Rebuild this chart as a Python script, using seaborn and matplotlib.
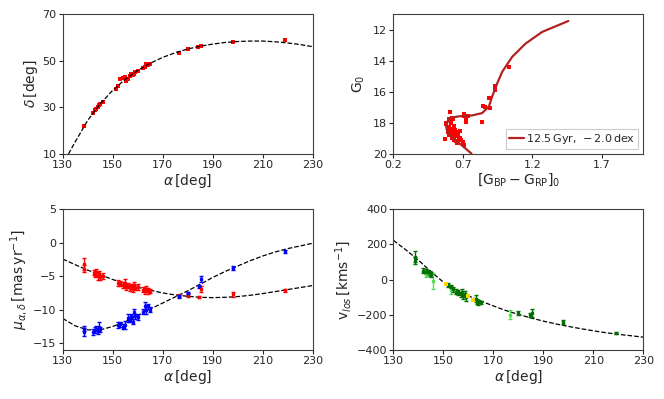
import numpy as np
import pandas as pd
import matplotlib
matplotlib.use("Agg")
import matplotlib.pyplot as plt
import seaborn as sns

sns.set_style("ticks")
plt.rcParams['font.family'] = ['DejaVu Sans']
plt.rcParams['mathtext.fontset'] = 'dejavusans'

# ---------------- data ----------------
# top-left: delta vs alpha
ra_pts = [138.5, 142, 143, 143.5, 144, 144.5, 145, 146, 151.5, 152, 153, 154, 155, 155.5, 156,
          157, 157.5, 158, 158.5, 159, 160, 162, 163, 163.5, 164, 165, 176.5, 180, 184, 185.5, 198, 219]
dec_pts = [22.2, 27.5, 29, 29.5, 30, 31, 31.5, 32.5, 38, 39, 42, 42.5, 43, 41.5, 42,
           43.5, 44.5, 44, 44.5, 45, 45.5, 47, 47.5, 48.5, 48, 48.5, 53.5, 55, 56, 56.3, 58, 58.7]
track_ra = [132.3, 135, 140, 145, 150, 155, 160, 165, 170, 175, 180, 185, 190, 195, 200, 205, 210,
            215, 220, 225, 230]
track_dec = [10, 15.2, 24.4, 31.5, 37.3, 42.0, 45.8, 48.9, 51.4, 53.4, 55.0, 56.2, 57.1, 57.8,
             58.2, 58.4, 58.4, 58.1, 57.6, 56.9, 56.0]

# top-right: CMD
iso_col = [0.762, 0.70, 0.62, 0.587, 0.58, 0.60, 0.671, 0.767, 0.839, 0.888, 0.911, 0.948,
           0.984, 1.056, 1.152, 1.272, 1.46]
iso_mag = [19.97, 19.5, 18.9, 18.54, 18.22, 17.69, 17.58, 17.52, 17.37, 16.95, 16.31, 15.45,
           14.71, 13.75, 12.9, 12.15, 11.45]
cmd_col = [0.61, 0.709, 0.712, 0.736, 0.724, 0.724, 0.58, 0.60, 0.62, 0.63, 0.578, 0.602, 0.616,
           0.626, 0.638, 0.60, 0.61, 0.62, 0.645, 0.657, 0.633, 0.60, 0.618, 0.657, 0.62, 0.638,
           0.573, 0.65, 0.67, 0.68, 0.69, 0.70, 0.71, 0.657, 0.839, 0.862, 0.845, 0.895, 0.888,
           0.93, 0.93, 1.03, 0.59, 0.64, 0.665, 0.68]
cmd_mag = [17.33, 17.43, 17.58, 17.55, 17.8, 17.92, 18.0, 17.76, 17.7, 17.76, 18.06, 18.27, 18.0,
           18.37, 18.2, 18.48, 18.48, 18.58, 18.48, 18.58, 18.69, 18.8, 18.8, 18.84, 19.0, 19.1,
           19.05, 19.16, 19.1, 19.0, 19.1, 19.2, 19.4, 19.3, 17.92, 16.99, 16.92, 17.05, 16.4,
           15.9, 15.6, 14.4, 18.6, 18.9, 18.7, 18.55]

# bottom-left: proper motions
pm_ra = [138.5, 138.5, 142.5, 143, 143.5, 144, 144.5, 145, 146, 152, 153, 154, 155, 155.5, 156,
         157, 157.5, 158, 158.5, 159, 160, 162, 163, 163.5, 164, 165, 176.5, 180, 184.5, 185.5,
         198, 219]
pmra = [-3.2, -3.9, -4.5, -4.8, -4.4, -5.0, -4.7, -5.2, -5.0, -6.0, -6.1, -6.3, -6.0, -6.6, -6.4,
        -6.8, -6.5, -6.9, -6.3, -6.7, -6.6, -7.0, -7.2, -6.9, -7.2, -7.2, -7.9, -7.8, -8.1, -6.9,
        -7.7, -7.1]
pmra_err = [0.9, 0.5, 0.4, 0.4, 0.4, 0.6, 0.4, 0.4, 0.4, 0.4, 0.4, 0.4, 0.6, 0.4, 0.4, 0.4, 0.4,
            0.4, 0.4, 0.4, 0.4, 0.4, 0.4, 0.4, 0.4, 0.3, 0.2, 0.3, 0.15, 0.4, 0.4, 0.2]
pm_dec_ra = [138.5, 138.5, 142, 143, 143.5, 144, 144.5, 145, 152, 153, 154, 155, 156, 157, 157.5,
             158, 158.5, 159, 160, 162, 163, 163.5, 164, 165, 176.5, 180, 184.5, 185.5, 198, 219]
pmdec = [-13.3, -12.8, -13.3, -13.0, -12.8, -13.2, -12.5, -12.9, -12.3, -12.2, -12.5, -12.3,
         -11.2, -11.5, -11.0, -11.8, -10.4, -11.0, -11.1, -10.3, -9.4, -10.0, -9.5, -10.0, -8.0,
         -7.5, -6.5, -5.4, -3.8, -1.3]
pmdec_err = [0.6, 0.4, 0.4, 0.5, 0.4, 0.4, 0.7, 0.4, 0.4, 0.4, 0.4, 0.6, 0.6, 0.4, 0.4, 0.4, 0.5,
             0.4, 0.4, 0.4, 0.6, 0.7, 0.4, 0.4, 0.2, 0.2, 0.2, 0.4, 0.3, 0.2]
pm_track_ra = [130, 135, 140, 145, 150, 155, 160, 165, 170, 175, 180, 185, 190, 195, 200, 205,
               210, 215, 220, 225, 230]
pmra_track = [-2.45, -3.3, -4.1, -4.8, -5.5, -6.1, -6.65, -7.1, -7.5, -7.8, -8.0, -8.15, -8.2,
              -8.15, -8.05, -7.85, -7.6, -7.3, -7.0, -6.7, -6.4]
pmdec_track = [-11.3, -12.4, -13.0, -13.0, -12.5, -11.8, -10.9, -9.9, -9.0, -8.1, -7.2, -6.2,
               -5.2, -4.3, -3.5, -2.7, -2.0, -1.4, -0.9, -0.5, -0.1]

# bottom-right: line-of-sight velocities
v_ra_dark = [138.5, 138.7, 142, 143, 143.5, 144.5, 145, 152, 153, 154, 155, 156, 157, 157.5, 158,
             158.5, 159, 163, 163.5, 164, 165, 180, 184.5, 185.5, 198, 219]
v_dark = [130, 110, 50, 45, 40, 35, 30, -30, -40, -55, -70, -75, -85, -70, -95, -80, -100, -110,
          -125, -130, -130, -190, -200, -190, -240, -305]
v_dark_err = [30, 20, 15, 15, 15, 15, 15, 10, 10, 15, 15, 15, 15, 15, 15, 15, 20, 20, 15, 15, 10,
              10, 12, 22, 12, 5]
v_ra_light = [143, 146, 153, 176.5]
v_light = [30, -10, -60, -200]
v_light_err = [18, 45, 25, 25]
v_ra_yellow = [151, 160, 162]
v_yellow = [-28, -94, -117]
v_track_ra = [130, 135, 140, 145, 150, 155, 160, 165, 170, 175, 180, 185, 190, 195, 200, 205,
              210, 215, 220, 225, 230]
v_track = [222, 168, 110, 45, -15, -57, -93, -122, -150, -176, -198, -218, -236, -252, -266, -279,
           -291, -302, -311, -319, -327]

# ---------------- figure ----------------
fig = plt.figure(figsize=(6.64, 3.99), dpi=100)
W, H = 664, 399
def add_ax(x0, y0, x1, y1):
    return fig.add_axes([x0 / W, 1 - y1 / H, (x1 - x0) / W, (y1 - y0) / H])

ax1 = add_ax(62.7, 14, 312.7, 154)
ax2 = add_ax(393.4, 14, 643.3, 154)
ax3 = add_ax(62.7, 209, 312.7, 350)
ax4 = add_ax(393.4, 209, 643.3, 350)

dash = dict(color='k', linestyle='--', linewidth=0.9, dashes=(3.5, 2))
tick_fs = 8
lab_fs = 10

# top-left
sns.lineplot(x=track_ra, y=track_dec, ax=ax1, sort=False, estimator=None, **dash)
sns.scatterplot(x=ra_pts, y=dec_pts, ax=ax1, color='red', s=9, linewidth=0, marker='s')
ax1.set_xlim(130, 230)
ax1.set_ylim(10, 70)
ax1.set_xticks([130, 150, 170, 190, 210, 230])
ax1.set_yticks([10, 30, 50, 70])
ax1.set_xlabel(r'$\alpha\,[\mathrm{deg}]$', fontsize=lab_fs, labelpad=1)
ax1.set_ylabel(r'$\delta\,[\mathrm{deg}]$', fontsize=lab_fs, labelpad=2)

# top-right
sns.lineplot(x=iso_col, y=iso_mag, ax=ax2, sort=False, estimator=None, color='#b22222',
             linewidth=1.6, label=r'$12.5\,\mathrm{Gyr},\,-2.0\,\mathrm{dex}$')
sns.scatterplot(x=cmd_col, y=cmd_mag, ax=ax2, color='red', s=7, linewidth=0, marker='s')
ax2.set_xlim(0.2, 2.0)
ax2.set_ylim(20, 11)
ax2.set_xticks([0.2, 0.7, 1.2, 1.7])
ax2.set_yticks([12, 14, 16, 18, 20])
ax2.set_xlabel(r'$[\mathrm{G_{BP}-G_{RP}}]_0$', fontsize=lab_fs, labelpad=1)
ax2.set_ylabel(r'$\mathrm{G}_0$', fontsize=lab_fs, labelpad=4)
leg = ax2.legend(loc='lower right', fontsize=8, handlelength=1.4, handletextpad=0.2,
                 borderpad=0.25, borderaxespad=0.45, fancybox=False, framealpha=1,
                 edgecolor='0.8')
leg.get_frame().set_linewidth(0.8)

# bottom-left
sns.lineplot(x=pm_track_ra, y=pmra_track, ax=ax3, sort=False, estimator=None, **dash)
sns.lineplot(x=pm_track_ra, y=pmdec_track, ax=ax3, sort=False, estimator=None, **dash)
ax3.errorbar(pm_ra, pmra, yerr=pmra_err, fmt='s', color='red', ms=2, elinewidth=1,
             capsize=1.5, capthick=1, zorder=3)
ax3.errorbar(pm_dec_ra, pmdec, yerr=pmdec_err, fmt='s', color='blue', ms=2, elinewidth=1,
             capsize=1.5, capthick=1, zorder=3)
ax3.set_xlim(130, 230)
ax3.set_ylim(-16, 5)
ax3.set_xticks([130, 150, 170, 190, 210, 230])
ax3.set_yticks([-15, -10, -5, 0, 5])
ax3.set_xlabel(r'$\alpha\,[\mathrm{deg}]$', fontsize=lab_fs, labelpad=1)
ax3.set_ylabel(r'$\mu_{\alpha,\delta}\,[\mathrm{mas\,yr^{-1}}]$', fontsize=lab_fs, labelpad=2)

# bottom-right
sns.lineplot(x=v_track_ra, y=v_track, ax=ax4, sort=False, estimator=None, **dash)
ax4.errorbar(v_ra_light, v_light, yerr=v_light_err, fmt='s', color='#55dd55', ms=2,
             elinewidth=1, capsize=1.5, capthick=1, zorder=3)
ax4.errorbar(v_ra_dark, v_dark, yerr=v_dark_err, fmt='s', color='#007000', ms=2,
             elinewidth=1, capsize=1.5, capthick=1, zorder=3)
sns.scatterplot(x=v_ra_yellow, y=v_yellow, ax=ax4, color='gold', s=9, linewidth=0,
                marker='s', zorder=4)
ax4.set_xlim(130, 230)
ax4.set_ylim(-400, 400)
ax4.set_xticks([130, 150, 170, 190, 210, 230])
ax4.set_yticks([-400, -200, 0, 200, 400])
ax4.set_xlabel(r'$\alpha\,[\mathrm{deg}]$', fontsize=lab_fs, labelpad=1)
ax4.set_ylabel(r'$\mathrm{v}_{los}\,[\mathrm{kms^{-1}}]$', fontsize=lab_fs, labelpad=2)

for ax in (ax1, ax2, ax3, ax4):
    ax.tick_params(labelsize=tick_fs, length=3, width=0.8, pad=1.5, direction='out')
    for sp in ax.spines.values():
        sp.set_linewidth(0.8)
        sp.set_color('0.25')

fig.savefig('out.png', dpi=100)
